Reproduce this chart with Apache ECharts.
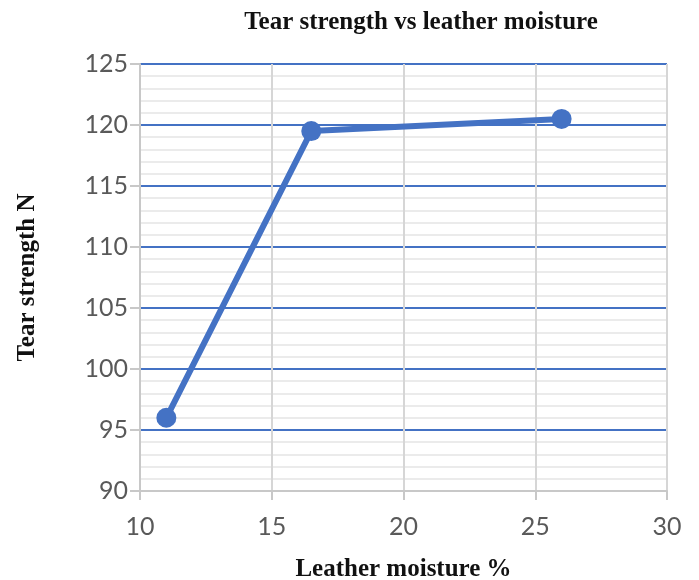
<!DOCTYPE html>
<html>
<head>
<meta charset="utf-8">
<script src="https://cdn.jsdelivr.net/npm/echarts@6/dist/echarts.min.js"></script>
<style>
  html, body { margin: 0; padding: 0; background: #fff; }
  #chart { width: 699px; height: 580px; }
</style>
</head>
<body>
<div id="chart"></div>
<script>
const moisture = [11, 16.5, 26]
const tearStrength = [96, 119.5, 120.5]
const title = 'Tear strength vs leather moisture'
const xName = 'Leather moisture %'
const yName = 'Tear strength N'

const points = moisture.map((m, i) => [m, tearStrength[i]])
const serif = '"Liberation Serif", "DejaVu Serif", serif'
const tickFont = { color: '#595959', fontFamily: 'Lato, "Open Sans", sans-serif', fontSize: 25 }

const chart = echarts.init(document.getElementById('chart'))
chart.setOption({
  animation: false,
  title: {
    text: title,
    left: 416,
    top: 5,
    textAlign: 'center',
    textStyle: { fontFamily: serif, fontWeight: 'bold', fontSize: 25, color: '#111' }
  },
  grid: { left: 140, right: 32, top: 64, bottom: 89, outerBoundsMode: 'none' },
  xAxis: {
    type: 'value',
    min: 10,
    max: 30,
    interval: 5,
    name: xName,
    nameLocation: 'middle',
    nameGap: 66,
    nameTextStyle: { fontFamily: serif, fontWeight: 'bold', fontSize: 25, color: '#111' },
    axisLine: { show: true, lineStyle: { color: '#c8c8c8', width: 2 } },
    axisTick: { show: true, length: 9, lineStyle: { color: '#c8c8c8', width: 2 } },
    axisLabel: Object.assign({ margin: 23 }, tickFont),
    splitLine: { show: true, lineStyle: { color: '#d6d6d6', width: 2 } }
  },
  yAxis: {
    type: 'value',
    min: 90,
    max: 125,
    interval: 5,
    name: yName,
    nameLocation: 'middle',
    nameGap: 100,
    nameTextStyle: { fontFamily: serif, fontWeight: 'bold', fontSize: 25, color: '#111' },
    axisLine: { show: true, lineStyle: { color: '#c8c8c8', width: 2 } },
    axisTick: { show: true, length: 10, lineStyle: { color: '#c8c8c8', width: 2 } },
    axisLabel: Object.assign({ margin: 12 }, tickFont),
    splitLine: { show: true, lineStyle: { color: '#4472c4', width: 2 } },
    minorTick: { show: false, splitNumber: 5 },
    minorSplitLine: { show: true, lineStyle: { color: '#ebebeb', width: 2 } }
  },
  series: [
    {
      type: 'line',
      data: points,
      symbol: 'circle',
      symbolSize: 20,
      lineStyle: { color: '#4472c4', width: 6 },
      itemStyle: { color: '#4472c4' },
      z: 5
    }
  ]
})
</script>
</body>
</html>
